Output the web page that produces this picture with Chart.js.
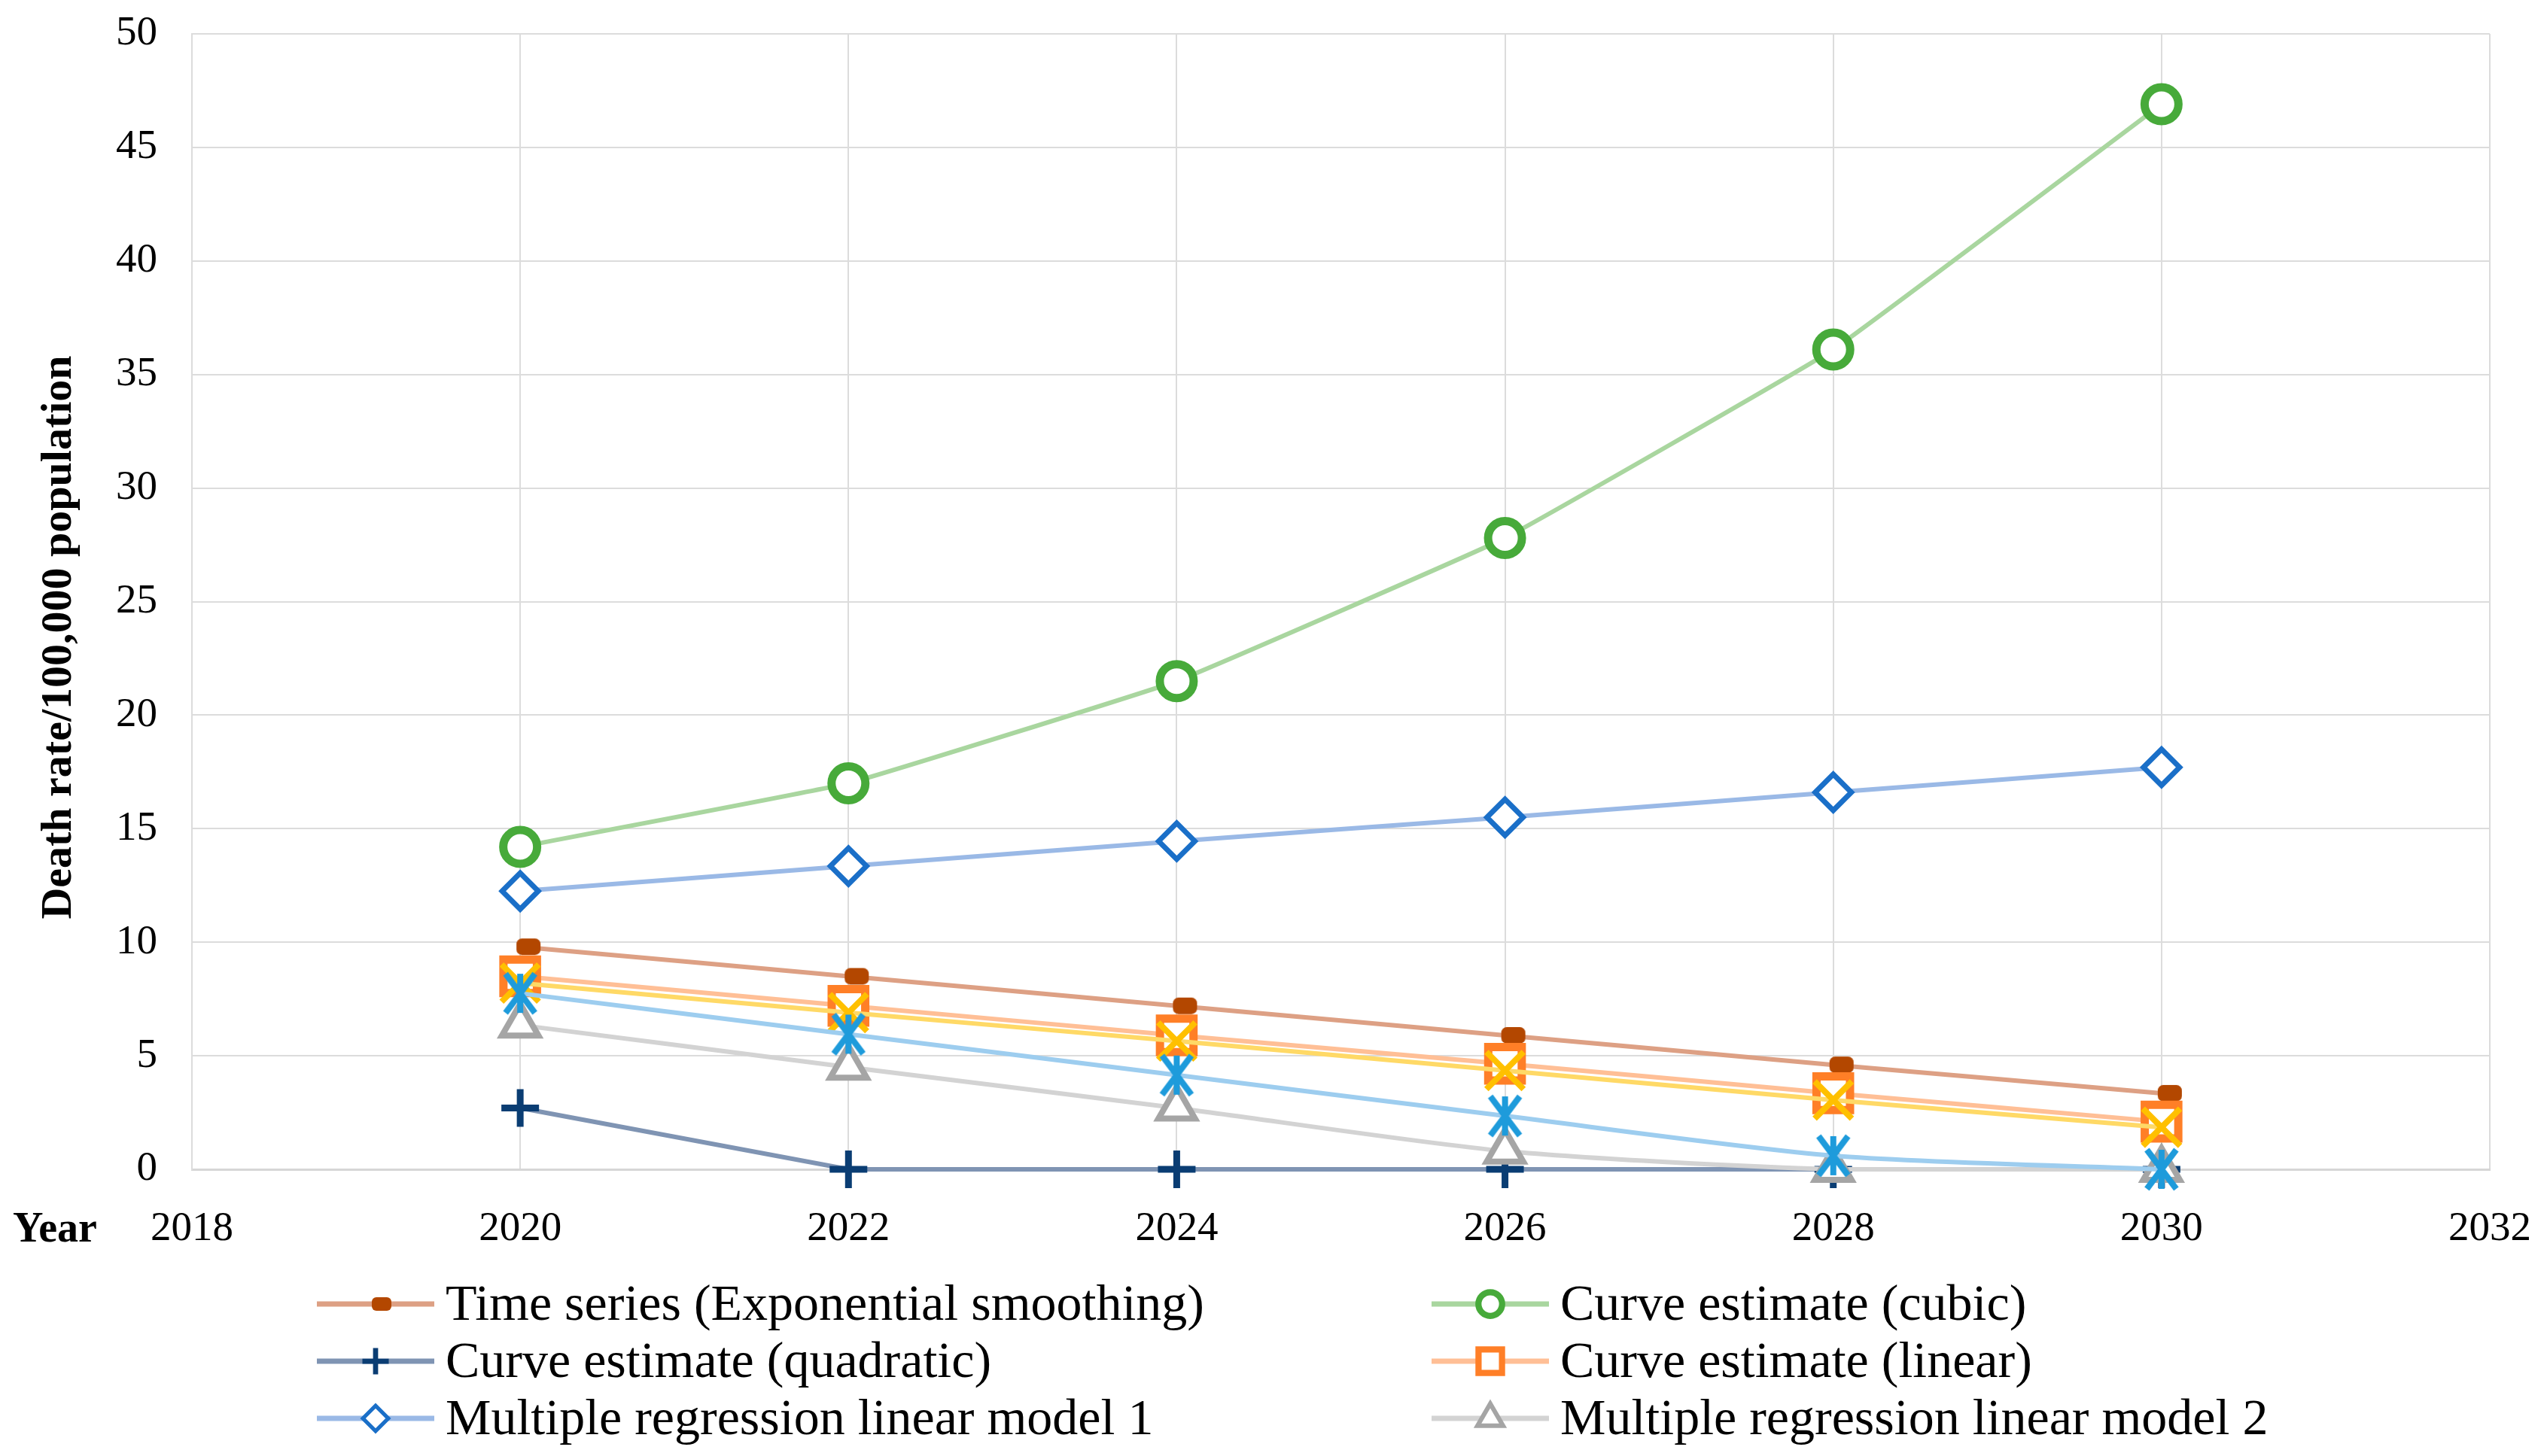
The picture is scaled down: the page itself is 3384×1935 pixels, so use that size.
<!DOCTYPE html>
<html>
<head>
<meta charset="utf-8">
<script src="https://cdn.jsdelivr.net/npm/chart.js@4/dist/chart.umd.min.js"></script>
<style>
  html, body { margin: 0; padding: 0; background: #fff; }
  #wrap { width: 3384px; height: 1935px; }
</style>
</head>
<body>
<div id="wrap"><canvas id="myChart"></canvas></div>
<script>
// Dados
var years = [2020, 2022, 2024, 2026, 2028, 2030];
var xTicks = [2018, 2020, 2022, 2024, 2026, 2028, 2030, 2032];
var yTicks = [0, 5, 10, 15, 20, 25, 30, 35, 40, 45, 50];

var timeSeries = [9.8, 8.5, 7.2, 5.9, 4.6, 3.35];
var cubic = [14.2, 17.0, 21.5, 27.8, 36.1, 46.9];
var quadratic = [2.7, 0, 0, 0, 0, 0];
var linear = [8.5, 7.2, 5.9, 4.65, 3.35, 2.1];
var model1 = [12.25, 13.35, 14.45, 15.5, 16.6, 17.7];
var model2 = [6.35, 4.5, 2.7, 0.8, 0, 0];
// two more series are plotted but not listed in the legend
var extraX = [8.2, 6.9, 5.65, 4.35, 3.05, 1.85];
var extraStar = [7.75, 5.95, 4.15, 2.35, 0.6, 0];

var yTitle = 'Death rate/100,000 population';
var xTitle = 'Year';

var serif = '"Liberation Serif", "DejaVu Serif", serif';

// marcadores desenhados a mao
function makeDash(w, h, off, color) {
    var c = document.createElement('canvas');
    c.width = 2 * (off + w / 2) + 2;
    c.height = h + 2;
    var g = c.getContext('2d');
    g.fillStyle = color;
    var x = c.width / 2 + off - w / 2, y = 1, r = h / 3;
    g.beginPath();
    g.moveTo(x + r, y);
    g.arcTo(x + w, y, x + w, y + h, r);
    g.arcTo(x + w, y + h, x, y + h, r);
    g.arcTo(x, y + h, x, y, r);
    g.arcTo(x, y, x + w, y, r);
    g.closePath();
    g.fill();
    return c;
}

function makeStar(size, lw, color) {
    var c = document.createElement('canvas');
    c.width = size + lw;
    c.height = size + lw;
    var g = c.getContext('2d');
    var m = c.width / 2, h = size / 2;
    g.strokeStyle = color;
    g.lineWidth = lw;
    g.beginPath();
    g.moveTo(m - h * 0.75, m - h); g.lineTo(m + h * 0.75, m + h);
    g.moveTo(m + h * 0.75, m - h); g.lineTo(m - h * 0.75, m + h);
    g.moveTo(m, m - h); g.lineTo(m, m + h);
    g.stroke();
    return c;
}

function pts(arr) {
    return years.map(function (x, i) { return { x: x, y: arr[i] }; });
}

var series = [
    { label: 'Time series (Exponential smoothing)', values: timeSeries, line: '#DDA084', mark: '#B34700',
      style: makeDash(32, 22, 11, '#B34700'), legendStyle: makeDash(26, 18, 8, '#B34700'), radius: 12, bw: 0, tension: 0.2 },
    { label: 'Curve estimate (cubic)', values: cubic, line: '#A9D69F', mark: '#47AA3A', style: 'circle', radius: 22.5, bw: 11, tension: 0.08 },
    { label: 'Curve estimate (quadratic)', values: quadratic, line: '#7F94B3', mark: '#0A3D73', style: 'cross', radius: 25, bw: 9, tension: 0 },
    { label: 'Curve estimate (linear)', values: linear, line: '#FFBF96', mark: '#FF7F27', style: 'rect', radius: 31.5, bw: 11, tension: 0.2 },
    { label: 'Multiple regression linear model 1', values: model1, line: '#9AB9E6', mark: '#1A6FC8', style: 'rectRot', radius: 24, bw: 7, tension: 0.2 },
    { label: 'Multiple regression linear model 2', values: model2, line: '#D3D3D3', mark: '#A5A5A5', style: 'triangle', radius: 28, bw: 8, tension: 0.25 },
    { label: '', values: extraX, line: '#FFD966', mark: '#FFC000', style: 'crossRot', radius: 35, bw: 8, tension: 0.2 },
    { label: '', values: extraStar, line: '#9DCDEF', mark: '#1E9BDB', style: makeStar(52, 8, '#1E9BDB'), radius: 28, bw: 0, tension: 0.25 }
];
var legendOrder = [0, 1, 2, 3, 4, 5];

var datasets = series.map(function (s, i) {
    return {
        label: s.label,
        data: pts(s.values),
        borderColor: s.line,
        borderWidth: 6,
        pointStyle: s.style,
        pointRadius: s.radius,
        pointBorderWidth: s.bw,
        pointBorderColor: s.mark,
        pointBackgroundColor: '#ffffff',
        tension: s.tension,
        clip: false,
        order: series.length - i
    };
});

// legenda e titulos
var extras = {
    id: 'extras',
    afterDraw: function (chart) {
        var ctx = chart.ctx;
        ctx.save();
        ctx.fillStyle = '#000';
        ctx.font = 'bold 58px ' + serif;
        ctx.textAlign = 'center';
        ctx.textBaseline = 'alphabetic';
        ctx.translate(94, 847);
        ctx.rotate(-Math.PI / 2);
        ctx.fillText(yTitle, 0, 0);
        ctx.restore();

        ctx.save();
        ctx.fillStyle = '#000';
        ctx.font = 'bold 56px ' + serif;
        ctx.textAlign = 'left';
        ctx.textBaseline = 'alphabetic';
        ctx.fillText(xTitle, 17, 1650);
        ctx.restore();

        var colX = [499, 1980];
        var rowY = [1733, 1809, 1885];
        legendOrder.forEach(function (idx, k) {
            var s = series[idx];
            var cx = colX[k % 2], cy = rowY[Math.floor(k / 2)];
            ctx.save();
            ctx.strokeStyle = s.line;
            ctx.lineWidth = 7;
            ctx.beginPath();
            ctx.moveTo(cx - 78, cy);
            ctx.lineTo(cx + 78, cy);
            ctx.stroke();
            ctx.fillStyle = '#fff';
            ctx.strokeStyle = s.mark;
            ctx.lineWidth = s.bw * 0.75;
            var st = s.legendStyle || s.style;
            Chart.helpers.drawPoint(ctx, { pointStyle: st, radius: s.radius * 0.7, borderWidth: s.bw * 0.75, rotation: 0 }, cx, cy);
            ctx.fillStyle = '#000';
            ctx.font = '68px ' + serif;
            ctx.textAlign = 'left';
            ctx.textBaseline = 'alphabetic';
            ctx.fillText(s.label, cx + 93, cy + 21);
            ctx.restore();
        });
    }
};

Chart.defaults.font.family = serif;
Chart.defaults.color = '#000';

var myChart = new Chart(document.getElementById('myChart'), {
    type: 'line',
    data: { datasets: datasets },
    plugins: [extras],
    options: {
        responsive: true,
        maintainAspectRatio: false,
        animation: false,
        layout: { padding: { left: 0, right: 76, top: 45, bottom: 0 } },
        plugins: { legend: { display: false }, tooltip: { enabled: false } },
        scales: {
            x: {
                type: 'linear',
                min: 2018,
                max: 2032,
                afterBuildTicks: function (axis) { axis.ticks = xTicks.map(function (v) { return { value: v }; }); },
                afterFit: function (axis) {
                    axis.height = 381;
                    axis.paddingLeft = 0;
                    axis.paddingRight = 0;
                },
                grid: { color: '#DCDCDC', lineWidth: 2, drawTicks: false },
                border: { color: '#D6D6D6', width: 3 },
                ticks: { font: { size: 55 }, padding: 47, maxRotation: 0, callback: function (v) { return String(v); } }
            },
            y: {
                min: 0,
                max: 50,
                afterBuildTicks: function (axis) { axis.ticks = yTicks.map(function (v) { return { value: v }; }); },
                afterFit: function (axis) {
                    axis.width = 255;
                    axis.paddingTop = 0;
                    axis.paddingBottom = 0;
                },
                grid: { color: '#DCDCDC', lineWidth: 2, drawTicks: false },
                border: { color: '#DCDCDC', width: 2 },
                ticks: { font: { size: 55 }, padding: 46 }
            }
        }
    }
});
</script>
</body>
</html>
